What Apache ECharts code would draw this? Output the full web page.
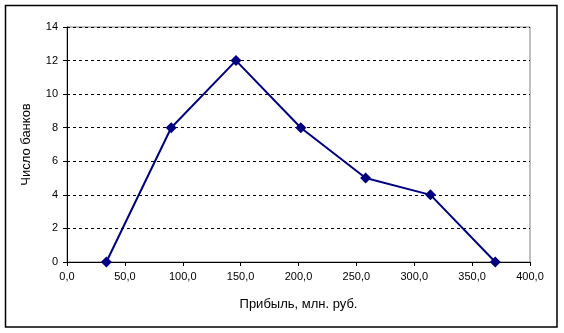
<!DOCTYPE html>
<html>
<head>
<meta charset="utf-8">
<script src="https://cdn.jsdelivr.net/npm/echarts@6/dist/echarts.min.js"></script>
<style>
html,body{margin:0;padding:0;background:#fff;}
#chart{width:564px;height:333px;}
</style>
</head>
<body>
<div id="chart"></div>
<script>
const profitMidpoints = [34, 90, 146, 202, 258, 314, 370];
const bankCounts = [0, 8, 12, 8, 5, 4, 0];
const xAxisTitle = 'Прибыль, млн. руб.';
const yAxisTitle = 'Число банков';

const chart = echarts.init(document.getElementById('chart'), null, {renderer: 'canvas'});
const font = 'Liberation Sans, Arial, sans-serif';
const points = profitMidpoints.map((x, i) => [x, bankCounts[i]]);

chart.setOption({
  animation: false,
  backgroundColor: '#ffffff',
  grid: {left: 67, right: 34, top: 27, bottom: 71, show: true, borderColor: '#808080', borderWidth: 1, backgroundColor: 'transparent'},
  xAxis: {
    type: 'value', min: 0, max: 400, interval: 50,
    name: xAxisTitle, nameLocation: 'middle', nameGap: 36,
    nameTextStyle: {fontFamily: font, fontSize: 13, color: '#000'},
    axisLine: {show: true, lineStyle: {color: '#000', width: 1}},
    axisTick: {show: true, length: 4, lineStyle: {color: '#000'}},
    axisLabel: {fontFamily: font, fontSize: 11, color: '#000', margin: 9,
      formatter: v => v.toFixed(1).replace('.', ',')},
    splitLine: {show: false}
  },
  yAxis: {
    type: 'value', min: 0, max: 14, interval: 2,
    name: yAxisTitle, nameLocation: 'middle', nameGap: 34, nameRotate: 90,
    nameTextStyle: {fontFamily: font, fontSize: 13, color: '#000'},
    axisLine: {show: true, lineStyle: {color: '#000', width: 1}},
    axisTick: {show: true, length: 4, lineStyle: {color: '#000'}},
    axisLabel: {fontFamily: font, fontSize: 11, color: '#000', margin: 9},
    splitLine: {show: true, lineStyle: {color: '#000', type: [3, 3], width: 1}}
  },
  series: [{
    type: 'line',
    data: points,
    symbol: 'diamond',
    symbolSize: 11,
    itemStyle: {color: '#000080'},
    lineStyle: {color: '#000080', width: 2},
    z: 5
  }],
  graphic: [{
    type: 'rect',
    shape: {x: 5.5, y: 5.5, width: 551.5, height: 321.5},
    style: {fill: 'none', stroke: '#000', lineWidth: 1.5},
    silent: true
  }]
});
</script>
</body>
</html>
